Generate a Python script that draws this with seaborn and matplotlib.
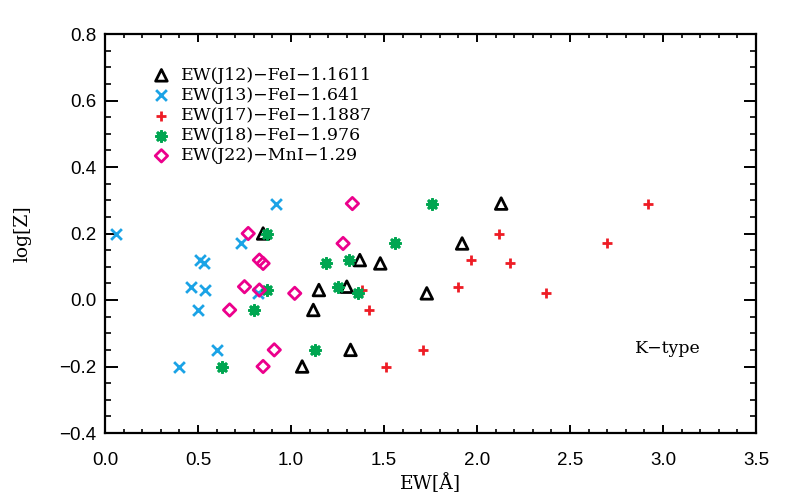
import numpy as np
import pandas as pd
import matplotlib
matplotlib.use("Agg")
import matplotlib.pyplot as plt
import seaborn as sns
from matplotlib.ticker import MultipleLocator

# ---- data ----
logz = [0.29, 0.20, 0.17, 0.12, 0.11, 0.04, 0.03, 0.02, -0.03, -0.15, -0.20]
ew_j12 = [2.13, 0.85, 1.92, 1.37, 1.48, 1.30, 1.15, 1.73, 1.12, 1.32, 1.06]
ew_j13 = [0.92, 0.06, 0.73, 0.51, 0.53, 0.46, 0.54, 0.82, 0.50, 0.60, 0.40]
ew_j17 = [2.92, 2.12, 2.70, 1.97, 2.18, 1.90, 1.38, 2.37, 1.42, 1.71, 1.51]
ew_j18 = [1.76, 0.87, 1.56, 1.31, 1.19, 1.25, 0.87, 1.36, 0.80, 1.13, 0.63]
ew_j22 = [1.33, 0.77, 1.28, 0.83, 0.85, 0.75, 0.83, 1.02, 0.67, 0.91, 0.85]

labels = ["EW(J12)\u2212FeI\u22121.1611",
          "EW(J13)\u2212FeI\u22121.641",
          "EW(J17)\u2212FeI\u22121.1887",
          "EW(J18)\u2212FeI\u22121.976",
          "EW(J22)\u2212MnI\u22121.29"]
x_ticks = [0.0, 0.5, 1.0, 1.5, 2.0, 2.5, 3.0, 3.5]
y_ticks = [-0.4, -0.2, 0.0, 0.2, 0.4, 0.6, 0.8]

sns.set_style("ticks")
plt.rcParams["font.family"] = ["DejaVu Serif"]
for k in ["text.color", "axes.labelcolor", "xtick.color", "ytick.color", "axes.edgecolor"]:
    plt.rcParams[k] = "black"

fig = plt.figure(figsize=(7.86, 5.0), dpi=100)
ax = fig.add_axes([105/786, 67/500, 651/786, 399/500])

ser = [ew_j12, ew_j13, ew_j17, ew_j18, ew_j22]
styles = [
    dict(marker="^", s=70, facecolor="none", edgecolor="black", linewidth=2.0),
    dict(marker="x", s=60, color="#1BA3E6", linewidth=2.0),
    dict(marker="+", s=60, color="#EE1C25", linewidth=2.0),
    dict(marker=(8, 2, 0), s=50, color="#00A651", linewidth=2.2),
    dict(marker="D", s=40, facecolor="none", edgecolor="#EC008C", linewidth=2.0),
]
for xs, lab, st in zip(ser, labels, styles):
    df = pd.DataFrame({"EW": xs, "logZ": logz})
    sns.scatterplot(data=df, x="EW", y="logZ", ax=ax, label=lab, **st)

ax.set_xlim(0, 3.5)
ax.set_ylim(-0.4, 0.8)
ax.set_xticks(x_ticks)
ax.set_yticks(y_ticks)
ax.set_xticklabels([f"{v:.1f}" for v in x_ticks], family="Liberation Sans", fontsize=13.5)
ax.set_yticklabels([f"{v:.1f}".replace("-", "\u2212") for v in y_ticks], family="Liberation Sans", fontsize=13.5)
ax.xaxis.set_minor_locator(MultipleLocator(0.1))
ax.yaxis.set_minor_locator(MultipleLocator(0.05))
ax.tick_params(axis="x", which="major", direction="in", top=True, bottom=True, length=6, width=1.4, pad=14)
ax.tick_params(axis="x", which="minor", direction="in", top=True, bottom=True, length=3, width=1.2)
ax.tick_params(axis="y", which="major", direction="in", left=True, right=True, length=9, width=1.4, pad=6)
ax.tick_params(axis="y", which="minor", direction="in", left=True, right=True, length=4.5, width=1.2)
for sp in ax.spines.values():
    sp.set_linewidth(1.6)
    sp.set_visible(True)

ax.set_xlabel("EW[\u00c5]", fontsize=13.5, labelpad=3)
ax.set_ylabel("log[Z]", fontsize=13.5, labelpad=20)

ax.text(2.85, -0.145, "K\u2212type", fontsize=12.5, va="center", ha="left")

leg = ax.legend(loc="upper left", bbox_to_anchor=(0.06, 0.935), frameon=False,
                fontsize=12.5, handletextpad=0.5, labelspacing=0.18,
                borderaxespad=0, handlelength=1.2)

fig.savefig("out.png", dpi=100)
